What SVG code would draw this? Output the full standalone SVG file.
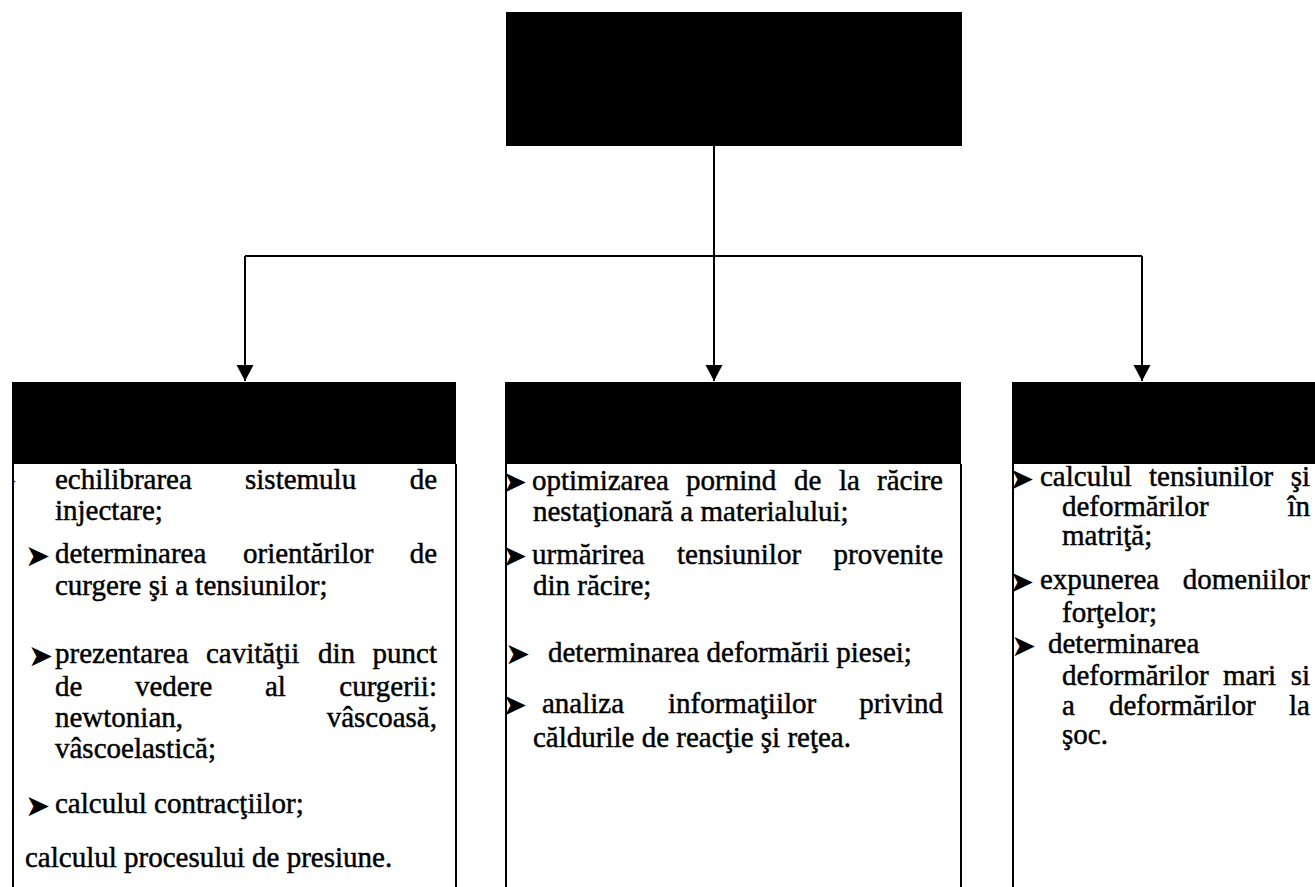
<svg xmlns="http://www.w3.org/2000/svg" width="1315" height="887" viewBox="0 0 1315 887">
  <style>
    .t { font-family: "Liberation Serif", "Times New Roman", serif; font-size: 29px; fill: #000; stroke: #000; stroke-width: 0.45; }
    .b { font-family: "DejaVu Sans", sans-serif; font-size: 30px; fill: #000; }
    .hdr { fill: #000; }
    .side { stroke: #000; stroke-width: 2; fill: none; }
    .conn { stroke: #000; stroke-width: 2; fill: none; }
  </style>
  <defs>
    <marker id="arrow" markerWidth="18" markerHeight="18" refX="16" refY="8.5" orient="auto" markerUnits="userSpaceOnUse">
      <path d="M0,0 L16,8.5 L0,17 Z" fill="#000"/>
    </marker>
    <clipPath id="clipLeft"><rect x="13" y="464" width="443" height="423"/></clipPath>
    <clipPath id="clipMid"><rect x="507" y="464" width="454" height="423"/></clipPath>
    <clipPath id="clipRight"><rect x="1013" y="464" width="302" height="423"/></clipPath>
  </defs>

  <!-- connectors -->
  <g id="connectors">
    <path class="conn" d="M714,146 V381" marker-end="url(#arrow)"/>
    <path class="conn" d="M245,256 H1142"/>
    <path class="conn" d="M245,256 V381" marker-end="url(#arrow)"/>
    <path class="conn" d="M1142,256 V381" marker-end="url(#arrow)"/>
  </g>

  <!-- root -->
  <g id="root">
    <rect class="hdr" x="506" y="12" width="456" height="134"/>
  </g>

  <!-- left branch -->
  <g id="branch-left">
    <rect class="hdr" x="12" y="382" width="444" height="82"/>
    <path class="side" d="M13,464 V887 M456,464 V887"/>
    <g clip-path="url(#clipLeft)">
      <text class="b" x="-8" y="491">➤</text>
    </g>
    <text class="t" x="55" y="489">echilibrarea</text>
    <text class="t" x="245" y="489">sistemulu</text>
    <text class="t" x="437" y="489" text-anchor="end">de</text>
    <text class="t" x="55" y="520">injectare;</text>

    <text class="b" x="25" y="566">➤</text>
    <text class="t" x="55" y="563">determinarea</text>
    <text class="t" x="243" y="563">orientărilor</text>
    <text class="t" x="437" y="563" text-anchor="end">de</text>
    <text class="t" x="55" y="595">curgere şi a tensiunilor;</text>

    <text class="b" x="28" y="666">➤</text>
    <text class="t" x="55" y="663">prezentarea</text>
    <text class="t" x="206" y="663">cavităţii</text>
    <text class="t" x="318" y="663">din</text>
    <text class="t" x="437" y="663" text-anchor="end">punct</text>
    <text class="t" x="55" y="696">de</text>
    <text class="t" x="135" y="696">vedere</text>
    <text class="t" x="265" y="696">al</text>
    <text class="t" x="437" y="696" text-anchor="end">curgerii:</text>
    <text class="t" x="55" y="727">newtonian,</text>
    <text class="t" x="437" y="727" text-anchor="end">vâscoasă,</text>
    <text class="t" x="55" y="758">vâscoelastică;</text>

    <text class="b" x="25" y="816">➤</text>
    <text class="t" x="55" y="813">calculul contracţiilor;</text>

    <text class="t" x="25" y="867">calculul procesului de presiune.</text>
  </g>

  <!-- middle branch -->
  <g id="branch-middle">
    <rect class="hdr" x="505" y="382" width="456" height="82"/>
    <path class="side" d="M506,464 V887 M961,464 V887"/>
    <g clip-path="url(#clipMid)">
      <text class="b" x="502" y="492">➤</text>
      <text class="b" x="502" y="566">➤</text>
      <text class="b" x="505" y="664">➤</text>
      <text class="b" x="502" y="715">➤</text>
    </g>
    <text class="t" x="532" y="490">optimizarea</text>
    <text class="t" x="686" y="490">pornind</text>
    <text class="t" x="794" y="490">de</text>
    <text class="t" x="839" y="490">la</text>
    <text class="t" x="943" y="490" text-anchor="end">răcire</text>
    <text class="t" x="533" y="521">nestaţionară a materialului;</text>

    <text class="t" x="532" y="564">urmărirea</text>
    <text class="t" x="677" y="564">tensiunilor</text>
    <text class="t" x="943" y="564" text-anchor="end">provenite</text>
    <text class="t" x="533" y="595">din răcire;</text>

    <text class="t" x="548" y="662">determinarea deformării piesei;</text>

    <text class="t" x="542" y="713">analiza</text>
    <text class="t" x="668" y="713">informaţiilor</text>
    <text class="t" x="943" y="713" text-anchor="end">privind</text>
    <text class="t" x="533" y="747">căldurile de reacţie şi reţea.</text>
  </g>

  <!-- right branch -->
  <g id="branch-right">
    <rect class="hdr" x="1012" y="382" width="303" height="82"/>
    <path class="side" d="M1013,464 V887"/>
    <g clip-path="url(#clipRight)">
      <text class="b" x="1009" y="489">➤</text>
      <text class="b" x="1009" y="592">➤</text>
      <text class="b" x="1011" y="656">➤</text>
    </g>
    <text class="t" x="1040" y="486">calculul</text>
    <text class="t" x="1149" y="486">tensiunilor</text>
    <text class="t" x="1310" y="486" text-anchor="end">şi</text>
    <text class="t" x="1062" y="516">deformărilor</text>
    <text class="t" x="1310" y="516" text-anchor="end">în</text>
    <text class="t" x="1062" y="545">matriţă;</text>

    <text class="t" x="1040" y="589">expunerea</text>
    <text class="t" x="1310" y="589" text-anchor="end">domeniilor</text>
    <text class="t" x="1062" y="622">forţelor;</text>
    <text class="t" x="1048" y="653">determinarea</text>
    <text class="t" x="1062" y="685">deformărilor</text>
    <text class="t" x="1223" y="685">mari</text>
    <text class="t" x="1310" y="685" text-anchor="end">si</text>
    <text class="t" x="1062" y="715">a</text>
    <text class="t" x="1109" y="715">deformărilor</text>
    <text class="t" x="1310" y="715" text-anchor="end">la</text>
    <text class="t" x="1062" y="744">şoc.</text>
  </g>
</svg>
